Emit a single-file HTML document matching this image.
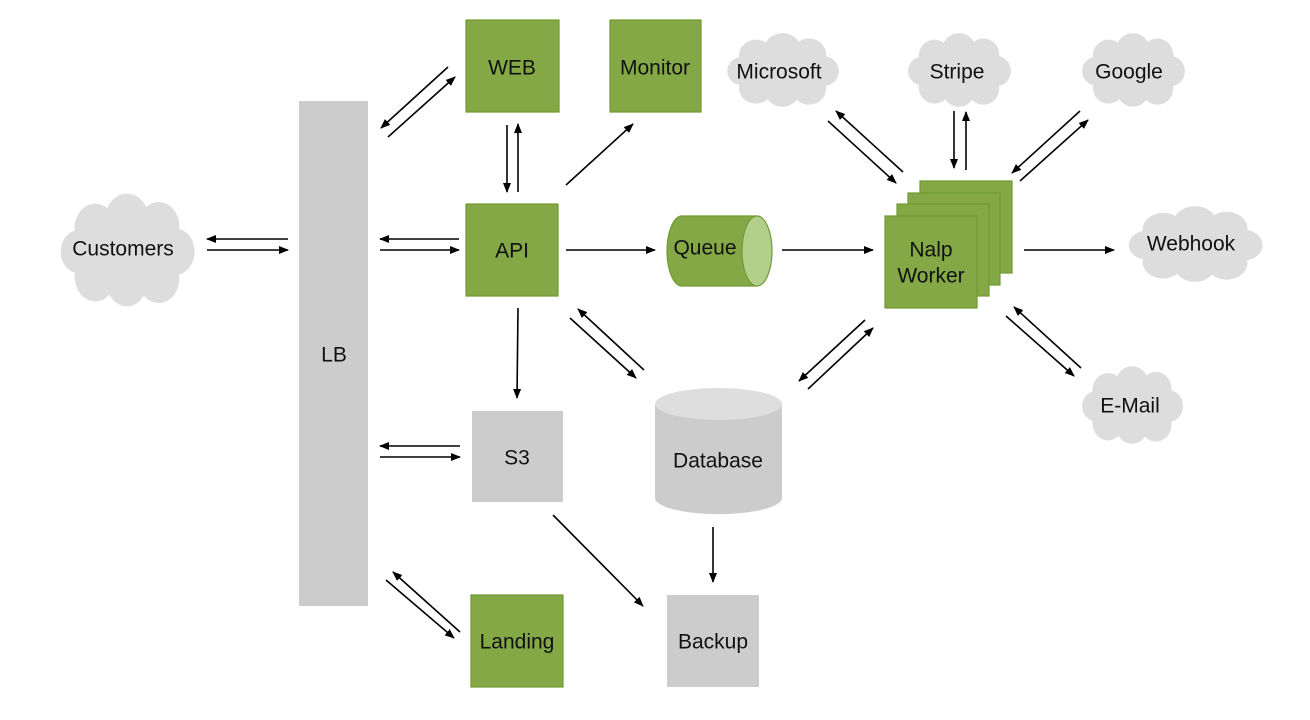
<!DOCTYPE html>
<html><head><meta charset="utf-8"><style>
body{margin:0;background:#fff;width:1310px;height:715px;overflow:hidden}
text{font-family:"Liberation Sans",sans-serif;font-size:21px;fill:#111;text-anchor:middle;dominant-baseline:central}
</style></head><body>
<svg width="1310" height="715" viewBox="0 0 1310 715" xmlns="http://www.w3.org/2000/svg">
<defs>
<marker id="a" markerWidth="10" markerHeight="8" refX="9" refY="4" orient="auto" markerUnits="userSpaceOnUse"><path d="M0,0 L10,4 L0,8 Z" fill="#000"/></marker>
<symbol id="cl" viewBox="0 0 100 70" preserveAspectRatio="none">
<g fill="#dddddd">
<ellipse cx="50" cy="36" rx="42" ry="27"/>
<circle cx="27" cy="22" r="15"/><circle cx="50" cy="17" r="16"/><circle cx="73" cy="21" r="15"/>
<circle cx="85" cy="36" r="14"/><circle cx="73" cy="52" r="15"/><circle cx="50" cy="54" r="15"/>
<circle cx="27" cy="51" r="15"/><circle cx="15" cy="36" r="13"/>
</g></symbol>
</defs>
<g fill="none" stroke="#000" stroke-width="1.6" marker-end="url(#a)">
<line x1="288" y1="239" x2="207" y2="239"/><line x1="207" y1="250" x2="288" y2="250"/>
<line x1="459" y1="239" x2="380" y2="239"/><line x1="380" y1="250" x2="459" y2="250"/>
<line x1="460" y1="446" x2="380" y2="446"/><line x1="380" y1="457" x2="460" y2="457"/>
<line x1="388" y1="137" x2="455" y2="77"/><line x1="448" y1="67" x2="381" y2="128"/>
<line x1="386" y1="580" x2="454" y2="638"/><line x1="460" y1="632" x2="393" y2="572"/>
<line x1="507" y1="125" x2="507" y2="192"/><line x1="518" y1="192" x2="518" y2="124"/>
<line x1="566" y1="185" x2="633" y2="124"/>
<line x1="566" y1="250" x2="655" y2="250"/>
<line x1="782" y1="250" x2="873" y2="250"/>
<line x1="518" y1="308" x2="517" y2="398"/>
<line x1="570" y1="318" x2="636" y2="378"/><line x1="644" y1="370" x2="578" y2="309"/>
<line x1="865" y1="320" x2="799" y2="381"/><line x1="808" y1="389" x2="873" y2="328"/>
<line x1="713" y1="527" x2="713" y2="582"/>
<line x1="553" y1="515" x2="643" y2="606"/>
<line x1="828" y1="121" x2="896" y2="183"/><line x1="903" y1="172" x2="836" y2="111"/>
<line x1="954" y1="111" x2="954" y2="168"/><line x1="966" y1="170" x2="966" y2="112"/>
<line x1="1080" y1="111" x2="1012" y2="173"/><line x1="1020" y1="181" x2="1088" y2="120"/>
<line x1="1024" y1="250" x2="1114" y2="250"/>
<line x1="1006" y1="316" x2="1074" y2="376"/><line x1="1081" y1="368" x2="1014" y2="307"/>
</g>
<use href="#cl" x="58" y="192" width="138" height="116"/><text x="123" y="249">Customers</text>
<use href="#cl" x="725" y="32" width="115" height="76"/><text x="779" y="72">Microsoft</text>
<use href="#cl" x="906" y="32" width="106" height="76"/><text x="957" y="72">Stripe</text>
<use href="#cl" x="1080" y="32" width="106" height="76"/><text x="1129" y="72">Google</text>
<use href="#cl" x="1126" y="205" width="138" height="78"/><text x="1191" y="244">Webhook</text>
<use href="#cl" x="1080" y="365" width="104" height="80"/><text x="1130" y="406">E-Mail</text>
<rect x="299" y="101" width="69" height="505" fill="#cccccc"/><text x="334" y="355">LB</text>
<g fill="#84a846" stroke="#6f9a30" stroke-width="1.2">
<rect x="466" y="20" width="93" height="92"/><rect x="610" y="20" width="91" height="92"/>
<rect x="466" y="204" width="92" height="92"/><rect x="471" y="595" width="92" height="92"/>
<rect x="920" y="181" width="92" height="92"/><rect x="908" y="193" width="92" height="92"/>
<rect x="897" y="204" width="92" height="92"/><rect x="885" y="216" width="92" height="92"/>
<path d="M682,216 L757,216 L757,286 L682,286 A15,35 0 0 1 682,216 Z"/>
</g>
<ellipse cx="757" cy="251" rx="15" ry="35" fill="#b3cf8c" stroke="#6f9a30" stroke-width="1.2"/>
<text x="512" y="68">WEB</text><text x="655" y="68">Monitor</text><text x="512" y="251">API</text>
<text x="517" y="642">Landing</text><text x="705" y="248">Queue</text>
<text x="931" y="250">Nalp</text><text x="931" y="276">Worker</text>
<rect x="472" y="411" width="91" height="91" fill="#cccccc"/><text x="517" y="458">S3</text>
<rect x="667" y="595" width="92" height="92" fill="#cccccc"/><text x="713" y="642">Backup</text>
<path d="M655,404 L655,498 A63,16 0 0 0 782,498 L782,404 Z" fill="#cccccc"/>
<ellipse cx="718.5" cy="404" rx="63.5" ry="16" fill="#dedede"/>
<text x="718" y="461">Database</text>
</svg>
</body></html>
